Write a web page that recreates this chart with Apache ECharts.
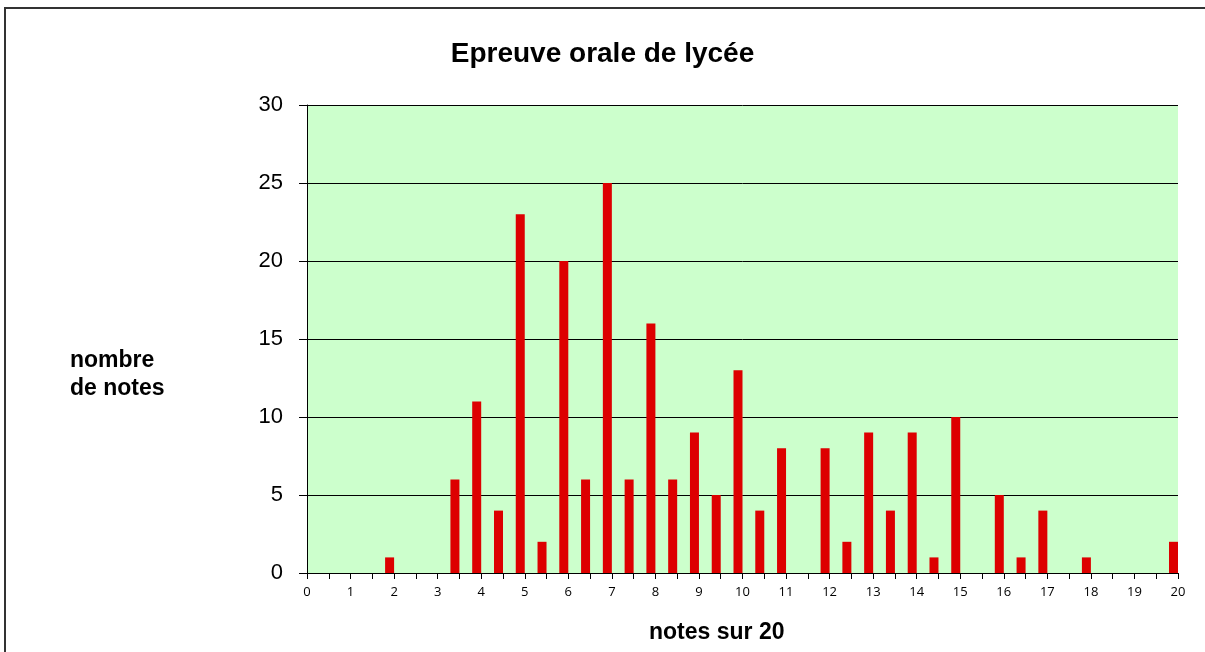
<!DOCTYPE html>
<html>
<head>
<meta charset="utf-8">
<script src="https://cdn.jsdelivr.net/npm/echarts@6/dist/echarts.min.js"></script>
<style>
  html, body { margin: 0; padding: 0; background: #fff; }
  #graf { width: 1205px; height: 652px; }
</style>
</head>
<body>
<div id="graf"></div>
<script>
// notes de 0 a 20 par demi-point
var notes = ['0', '0.5', '1', '1.5', '2', '2.5', '3', '3.5', '4', '4.5', '5', '5.5',
    '6', '6.5', '7', '7.5', '8', '8.5', '9', '9.5', '10', '10.5', '11', '11.5',
    '12', '12.5', '13', '13.5', '14', '14.5', '15', '15.5', '16', '16.5', '17', '17.5',
    '18', '18.5', '19', '19.5', '20'];

var nombre = [0, 0, 0, 0, 1, 0, 0, 6, 11, 4, 23, 2,
    20, 6, 25, 6, 16, 6, 9, 5, 13, 4, 8, 0,
    8, 2, 9, 4, 9, 1, 10, 0, 5, 1, 4, 0,
    1, 0, 0, 0, 2];

var titre = 'Epreuve orale de lycée';
var nomY = 'nombre\nde notes';
var nomX = 'notes sur 20';

var myChart = echarts.init(document.getElementById('graf'));

var option = {
    animation: false,
    backgroundColor: '#fff',
    title: [
        {
            text: titre,
            left: 'center',
            top: 35,
            textStyle: { fontFamily: 'Liberation Sans', fontSize: 28, fontWeight: 'bold', color: '#000' }
        },
        {
            text: nomY,
            left: 65,
            top: 342,
            textStyle: { fontFamily: 'Liberation Sans', fontSize: 23, fontWeight: 'bold', color: '#000', lineHeight: 28 }
        },
        {
            text: nomX,
            left: 644,
            top: 616,
            textStyle: { fontFamily: 'Liberation Sans', fontSize: 23, fontWeight: 'bold', color: '#000' }
        }
    ],
    graphic: [
        {
            type: 'rect',
            shape: { x: 5, y: 8, width: 1400, height: 800 },
            style: { fill: 'none', stroke: '#333', lineWidth: 2 },
            silent: true
        }
    ],
    grid: {
        left: 307,
        right: 27,
        top: 105,
        bottom: 79,
        show: true,
        backgroundColor: '#CCFFCC',
        borderWidth: 0
    },
    xAxis: {
        type: 'category',
        data: notes,
        boundaryGap: false,
        axisLine: { lineStyle: { color: '#000', width: 1 } },
        axisTick: { show: true, interval: 0, length: 6, lineStyle: { color: '#000' } },
        axisLabel: { interval: 1, margin: 13, fontFamily: 'Open Sans', fontSize: 13, color: '#000' },
        splitLine: { show: false }
    },
    yAxis: {
        type: 'value',
        min: 0,
        max: 30,
        interval: 5,
        axisLine: { show: true, lineStyle: { color: '#000', width: 1 } },
        axisTick: { show: true, length: 8, lineStyle: { color: '#000' } },
        axisLabel: { margin: 24, fontFamily: 'Liberation Sans', fontSize: 22, color: '#000' },
        splitLine: { lineStyle: { color: '#000', width: 1 } }
    },
    series: [
        {
            type: 'bar',
            data: nombre,
            barWidth: 9,
            barGap: '0%',
            itemStyle: { color: '#DD0000' }
        },
        {
            // serie vide pour decaler les barres a gauche du trait
            type: 'bar',
            data: [],
            barWidth: 9
        }
    ]
};

myChart.setOption(option);
</script>
</body>
</html>
